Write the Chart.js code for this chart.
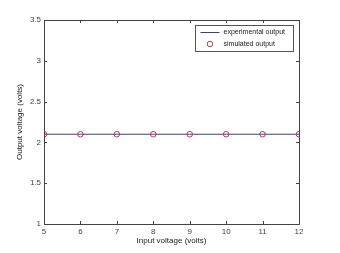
<!DOCTYPE html>
<html><head><meta charset="utf-8">
<script src="https://cdn.jsdelivr.net/npm/chart.js@4/dist/chart.umd.min.js"></script>
<style>html,body{margin:0;padding:0;background:#fff}#wrap{width:340px;height:253px}</style>
</head><body><div id="wrap"><canvas id="c" width="340" height="253"></canvas></div>
<script>
const inputVoltage = [5, 6, 7, 8, 9, 10, 11, 12];
const experimentalOutput = [2.1, 2.1, 2.1, 2.1, 2.1, 2.1, 2.1, 2.1];
const simulatedOutput = [2.1, 2.1, 2.1, 2.1, 2.1, 2.1, 2.1, 2.1];
const xTicks = [5, 6, 7, 8, 9, 10, 11, 12];
const yTicks = [1, 1.5, 2, 2.5, 3, 3.5];
const seriesNames = ['experimental output', 'simulated output'];

const FONT = 'Liberation Sans, Arial, sans-serif';
const lineColor = '#3c3c96';
const markColor = '#b83a4a';

const inwardTicks = {
  id: 'inwardTicks',
  afterDraw(chart) {
    const ctx = chart.ctx, a = chart.chartArea;
    const xs = chart.scales.x, ys = chart.scales.y;
    ctx.save();
    ctx.strokeStyle = '#444'; ctx.lineWidth = 1;
    ctx.beginPath();
    ctx.rect(Math.round(a.left)+0.5, Math.round(a.top)+0.5, Math.round(a.right-a.left), Math.round(a.bottom-a.top));
    ctx.stroke();
    ctx.beginPath();
    xTicks.forEach(v => {
      const p = Math.round(xs.getPixelForValue(v)) + 0.5;
      ctx.moveTo(p, a.bottom); ctx.lineTo(p, a.bottom - 3);
      ctx.moveTo(p, a.top); ctx.lineTo(p, a.top + 3);
    });
    yTicks.forEach(v => {
      const p = Math.round(ys.getPixelForValue(v)) + 0.5;
      ctx.moveTo(a.left, p); ctx.lineTo(a.left + 3, p);
      ctx.moveTo(a.right, p); ctx.lineTo(a.right - 3, p);
    });
    ctx.stroke();
    // legend
    const lx = 195.5, ly = 25.5, lw = 98, lh = 26;
    ctx.fillStyle = '#fff'; ctx.fillRect(lx, ly, lw, lh);
    ctx.strokeStyle = '#555'; ctx.strokeRect(lx, ly, lw, lh);
    ctx.strokeStyle = lineColor; ctx.lineWidth = 1;
    ctx.beginPath(); ctx.moveTo(lx + 5, ly + 7); ctx.lineTo(lx + 24, ly + 7); ctx.stroke();
    ctx.strokeStyle = markColor;
    ctx.beginPath(); ctx.arc(lx + 14.5, ly + 18.5, 2.8, 0, Math.PI * 2); ctx.stroke();
    ctx.fillStyle = '#222'; ctx.font = '7px ' + FONT; ctx.textBaseline = 'middle'; ctx.textAlign = 'left';
    ctx.fillText(seriesNames[0], lx + 28, ly + 7);
    ctx.fillText(seriesNames[1], lx + 28, ly + 18.5);
    ctx.restore();
  }
};

new Chart(document.getElementById('c'), {
  type: 'scatter',
  data: {
    datasets: [
      { label: seriesNames[0], data: inputVoltage.map((x, i) => ({x, y: experimentalOutput[i]})),
        showLine: true, borderColor: lineColor, borderWidth: 1, pointRadius: 0, fill: false, order: 2 },
      { label: seriesNames[1], data: inputVoltage.map((x, i) => ({x, y: simulatedOutput[i]})),
        showLine: false, pointStyle: 'circle', pointRadius: 2.8, borderColor: markColor, borderWidth: 1,
        backgroundColor: 'rgba(0,0,0,0)', order: 1 }
    ]
  },
  options: {
    responsive: false, animation: false, devicePixelRatio: 1,
    layout: { padding: { top: 20, right: 41, left: 15, bottom: 7 } },
    plugins: { legend: { display: false }, tooltip: { enabled: false } },
    scales: {
      x: {
        type: 'linear', min: 5, max: 12,
        afterBuildTicks: s => { s.ticks = xTicks.map(v => ({value: v})); },
        afterFit: s => { s.height = 22; },
        grid: { display: false, drawTicks: false }, border: { display: false },
        ticks: { color: '#444', font: { family: FONT, size: 8 }, padding: 3, maxRotation: 0, callback: v => String(v) },
        title: { display: true, text: 'Input voltage (volts)', color: '#222', font: { family: FONT, size: 8 }, padding: { top: 0, bottom: 0 } }
      },
      y: {
        type: 'linear', min: 1, max: 3.5,
        afterBuildTicks: s => { s.ticks = yTicks.map(v => ({value: v})); },
        afterFit: s => { s.width = 29; },
        grid: { display: false, drawTicks: false }, border: { display: false },
        ticks: { color: '#444', font: { family: FONT, size: 8 }, padding: 3, callback: v => String(v) },
        title: { display: true, text: 'Output voltage (volts)', color: '#222', font: { family: FONT, size: 8 }, padding: { top: 0, bottom: 0 } }
      }
    }
  },
  plugins: [inwardTicks]
});
</script></body></html>
